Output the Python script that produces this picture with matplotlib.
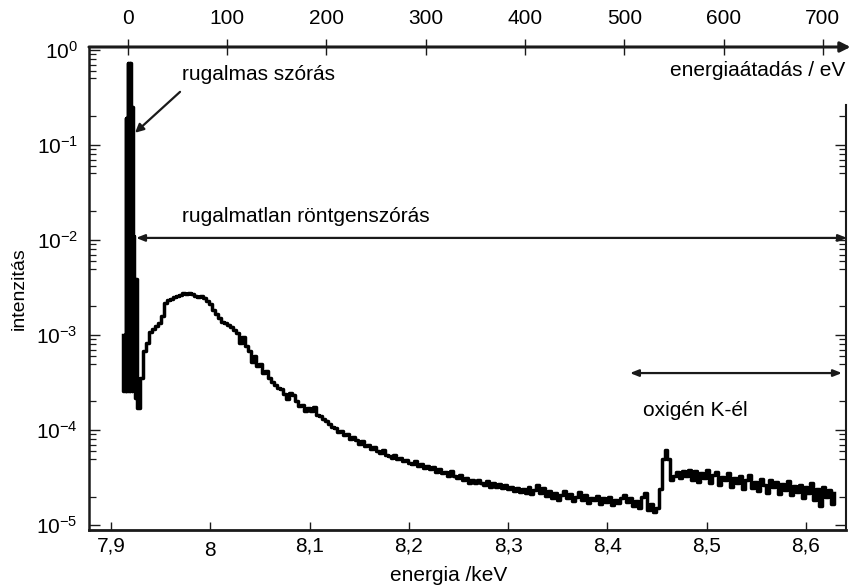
import numpy as np
import matplotlib
matplotlib.use("Agg")
import matplotlib.pyplot as plt
from matplotlib.ticker import FixedLocator, LogLocator, NullFormatter, LogFormatterMathtext
from matplotlib.transforms import ScaledTranslation

plt.rcParams['font.family'] = ['Liberation Sans', 'DejaVu Sans']
plt.rcParams['mathtext.default'] = 'regular'
INK = '#1a1a1a'

# elastic peak channels (keV) and intensities
peak_start = 7.9118
peak_step = 0.0007
peak_int = [1.0e-3, 2.6e-4, 1.0e-3, 2.6e-4, 0.19, 2.6e-4, 0.19, 0.72, 2.6e-4, 0.72,
            2.6e-4, 0.72, 0.25, 2.6e-4, 0.25, 0.011, 2.6e-4, 3.9e-3, 2.2e-4, 3.9e-3,
            1.7e-4]

# inelastic continuum channels
cont_start = 7.9265
cont_step = 0.003
cont_int = [
    1.7e-4, 3.5e-4, 6.8e-4, 8.3e-4, 1.07e-3, 1.17e-3, 1.23e-3, 1.35e-3, 1.6e-3, 2.15e-3,
    2.35e-3, 2.4e-3, 2.5e-3, 2.55e-3, 2.65e-3, 2.75e-3, 2.7e-3, 2.8e-3, 2.7e-3, 2.6e-3,
    2.5e-3, 2.55e-3, 2.45e-3, 2.3e-3, 2.1e-3, 1.85e-3, 1.65e-3, 1.5e-3, 1.38e-3, 1.35e-3,
    1.26e-3, 1.2e-3, 1.12e-3, 1.05e-3, 8.3e-4, 9.5e-4, 7.6e-4, 6.8e-4, 5.2e-4, 6.0e-4,
    4.7e-4, 5.0e-4, 4.0e-4, 4.2e-4, 3.5e-4, 3.2e-4, 3.0e-4, 2.75e-4, 2.7e-4, 2.4e-4,
    2.1e-4, 2.45e-4, 2.35e-4, 2.0e-4, 1.8e-4, 1.85e-4, 1.6e-4, 1.7e-4, 1.6e-4, 1.75e-4,
    1.45e-4, 1.4e-4, 1.3e-4, 1.25e-4, 1.15e-4, 1.07e-4, 1.05e-4, 9.5e-5, 9.8e-5, 8.9e-5,
    9.1e-5, 8.1e-5, 8.5e-5, 7.8e-5, 7.2e-5, 7.6e-5, 6.8e-5, 6.9e-5, 6.3e-5, 6.6e-5,
    6.0e-5, 5.8e-5, 6.2e-5, 5.5e-5, 5.4e-5, 5.1e-5, 5.5e-5, 5.0e-5, 5.1e-5, 4.7e-5,
    4.9e-5, 4.5e-5, 4.4e-5, 4.7e-5, 4.2e-5, 4.4e-5, 4.0e-5, 4.2e-5, 3.9e-5, 4.1e-5,
    3.6e-5, 3.9e-5, 3.5e-5, 3.6e-5, 3.3e-5, 3.7e-5, 3.3e-5, 3.15e-5, 3.4e-5, 3.0e-5,
    3.15e-5, 2.8e-5, 3.0e-5, 2.75e-5, 2.95e-5, 2.8e-5, 2.65e-5, 2.9e-5, 2.55e-5, 2.75e-5,
    2.5e-5, 2.7e-5, 2.45e-5, 2.65e-5, 2.4e-5, 2.5e-5, 2.3e-5, 2.45e-5, 2.25e-5, 2.4e-5,
    2.19e-5, 2.51e-5, 2.14e-5, 2.34e-5, 2.63e-5, 2.19e-5, 2.45e-5, 2.04e-5, 2.29e-5, 1.95e-5,
    2.19e-5, 1.82e-5, 2.09e-5, 2.29e-5, 1.91e-5, 2.14e-5, 1.78e-5, 2.0e-5, 2.24e-5, 1.86e-5,
    2.09e-5, 1.7e-5, 1.95e-5, 1.82e-5, 2.04e-5, 1.66e-5, 1.91e-5, 1.74e-5, 2.0e-5, 1.62e-5,
    1.86e-5, 1.7e-5, 1.95e-5, 2.09e-5, 1.74e-5, 1.91e-5, 1.58e-5, 1.78e-5, 1.51e-5, 2.0e-5,
    2.19e-5, 1.45e-5, 1.66e-5, 1.38e-5, 1.51e-5, 2.4e-5, 5.0e-5, 6.2e-5, 5.0e-5, 3.0e-5,
    3.3e-5, 3.6e-5, 3.16e-5, 3.7e-5, 3.3e-5, 3.8e-5, 3.02e-5, 3.72e-5, 2.82e-5, 3.55e-5,
    3.16e-5, 3.8e-5, 2.75e-5, 3.39e-5, 3.63e-5, 2.63e-5, 3.24e-5, 2.95e-5, 3.55e-5, 2.51e-5,
    3.16e-5, 2.75e-5, 3.31e-5, 2.4e-5, 3.02e-5, 3.39e-5, 2.45e-5, 2.82e-5, 2.29e-5, 3.09e-5,
    2.63e-5, 2.19e-5, 2.95e-5, 2.51e-5, 2.82e-5, 2.14e-5, 2.69e-5, 2.34e-5, 2.88e-5, 2.09e-5,
    2.57e-5, 2.24e-5, 2.63e-5, 1.91e-5, 2.51e-5, 2.19e-5, 2.75e-5, 1.82e-5, 2.4e-5, 1.58e-5,
    2.51e-5, 2.0e-5, 2.34e-5, 1.66e-5, 2.19e-5,
]

E0 = 7.917  # elastic line, 0 eV transfer
bottom_ticks = [7.9, 8.0, 8.1, 8.2, 8.3, 8.4, 8.5, 8.6]
bottom_labels = ['7,9', '8', '8,1', '8,2', '8,3', '8,4', '8,5', '8,6']
top_ticks = [0, 100, 200, 300, 400, 500, 600, 700]

energy = np.concatenate([peak_start + peak_step * np.arange(len(peak_int)),
                         cont_start + cont_step * np.arange(len(cont_int))])
intensity = np.array(peak_int + cont_int)

fig = plt.figure(figsize=(8.5, 5.86), dpi=100)
ax = fig.add_axes([0.1047, 0.0956, 0.8906, 0.8242])
ax.step(energy, intensity, where='post', color='black', lw=2.5)

ax.set_yscale('log')
ylo, yhi = 8.9e-6, 1.07
ax.set_ylim(ylo, yhi)
ax.set_xlim(7.8778, 8.6403)

# spines
for s in ('left', 'bottom', 'right'):
    ax.spines[s].set_color(INK)
ax.spines['left'].set_linewidth(1.8)
ax.spines['bottom'].set_linewidth(2.0)
ax.spines['right'].set_linewidth(1.5)
ax.spines['top'].set_visible(False)
ax.spines['right'].set_bounds(ylo, 0.26)

ax.set_xticks(bottom_ticks)
ax.set_xticklabels(bottom_labels, fontsize=15)
ax.tick_params(axis='x', direction='in', length=6, width=1.0, color=INK, pad=5)
# the "8" label sits a little lower in the original
lab8 = ax.get_xticklabels()[1]
lab8.set_transform(lab8.get_transform() + ScaledTranslation(0, -3 / 72, fig.dpi_scale_trans))

ax.yaxis.set_major_locator(LogLocator(base=10, numticks=10))
ax.yaxis.set_major_formatter(LogFormatterMathtext())
ax.yaxis.set_minor_locator(LogLocator(base=10, subs=(2, 5, 6, 7, 8, 9), numticks=10))
ax.yaxis.set_minor_formatter(NullFormatter())
ax.tick_params(axis='y', which='major', direction='in', length=8, width=1.0,
               color=INK, right=False, pad=8, labelsize=15)
ax.tick_params(axis='y', which='minor', direction='in', length=5, width=0.9,
               color=INK, right=False)

# right-hand ticks only below the spine top
ax2 = ax.twinx()
ax2.set_yscale('log')
ax2.set_ylim(ylo, yhi)
for s in ax2.spines.values():
    s.set_visible(False)
ax2.yaxis.set_major_locator(FixedLocator([10.0 ** d for d in range(-5, 0)]))
ax2.yaxis.set_minor_locator(FixedLocator(
    [s * 10.0 ** d for d in range(-6, 0) for s in (2, 5, 6, 7, 8, 9) if s * 10.0 ** d < 0.26]))
ax2.yaxis.set_major_formatter(NullFormatter())
ax2.yaxis.set_minor_formatter(NullFormatter())
ax2.tick_params(axis='y', which='major', direction='in', length=8, width=1.0, color=INK)
ax2.tick_params(axis='y', which='minor', direction='in', length=5, width=0.9, color=INK)

# top axis: energy transfer
secax = ax.secondary_xaxis('top', functions=(lambda e: (e - E0) * 1000,
                                              lambda t: t / 1000 + E0))
secax.set_xticks(top_ticks)
secax.set_xticklabels([str(t) for t in top_ticks], fontsize=15)
secax.tick_params(direction='inout', length=11, width=1.0, color=INK, pad=8)
secax.spines['top'].set_visible(False)
ax.annotate('', xy=(1.006, 1.0), xytext=(0.0, 1.0), xycoords='axes fraction',
            arrowprops=dict(arrowstyle='-|>,head_length=0.6,head_width=0.3',
                            lw=2.2, color=INK, shrinkA=0, shrinkB=0),
            annotation_clip=False)

ax.set_xlabel('energia /keV', fontsize=15, labelpad=2)
ax.xaxis.set_label_coords(0.4756, -0.075)
ax.set_ylabel('intenzitás', fontsize=14, labelpad=6)
fig.text(845 / 850, 1 - 70 / 586, 'energiaátadás / eV', ha='right', va='center',
         fontsize=15)

# annotations
ax.text(7.9715, 0.546, 'rugalmas szórás', fontsize=15, va='center', ha='left')
ax.annotate('', xy=(7.9242, 0.134), xytext=(7.9695, 0.361),
            arrowprops=dict(arrowstyle='-|>,head_length=0.5,head_width=0.25',
                            lw=1.6, color=INK, shrinkA=0, shrinkB=0))
ax.text(7.9715, 0.0175, 'rugalmatlan röntgenszórás', fontsize=15, va='center', ha='left')
ax.annotate('', xy=(7.9252, 0.0105), xytext=(8.6413, 0.0105),
            arrowprops=dict(arrowstyle='<|-|>,head_length=0.5,head_width=0.2',
                            lw=1.6, color=INK, shrinkA=0, shrinkB=0),
            annotation_clip=False)
ax.text(8.4358, 1.62e-4, 'oxigén K-él', fontsize=15, va='center', ha='left')
ax.annotate('', xy=(8.4227, 3.98e-4), xytext=(8.6362, 3.98e-4),
            arrowprops=dict(arrowstyle='<|-|>,head_length=0.5,head_width=0.2',
                            lw=1.6, color=INK, shrinkA=0, shrinkB=0))

fig.savefig('out.png', dpi=100)
